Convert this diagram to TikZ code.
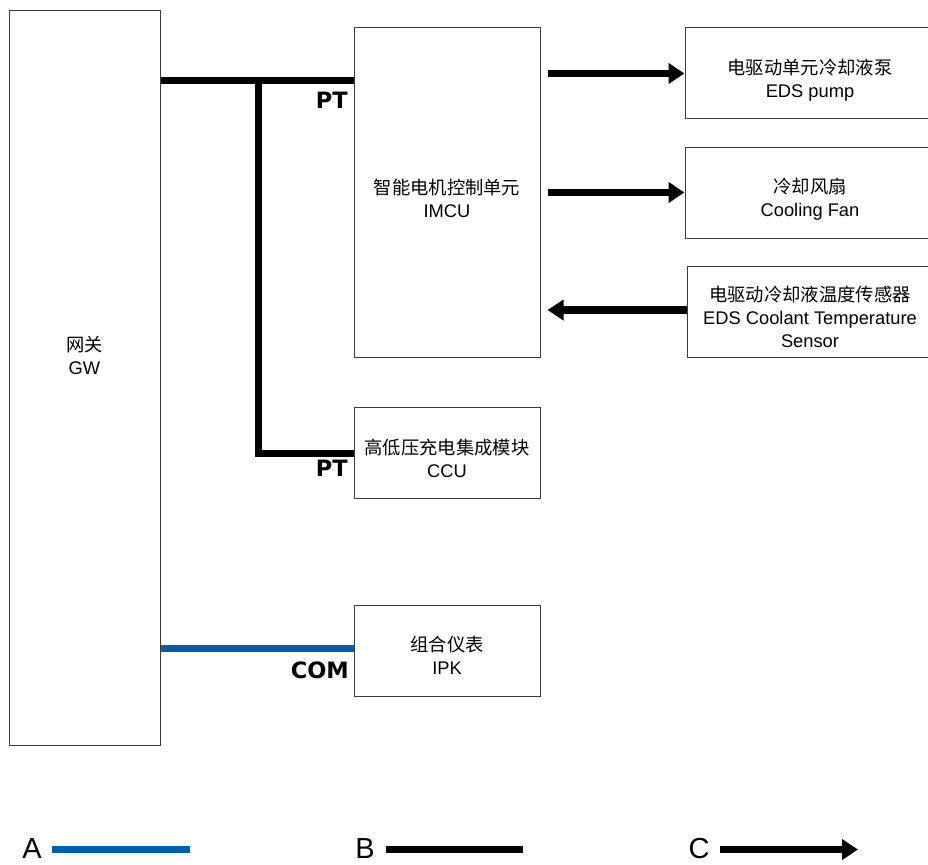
\documentclass[tikz,border=0pt]{standalone}
\usepackage{fontspec}
\setmainfont{Liberation Sans}
\newfontfamily\cjk{Noto Sans CJK SC}
\newfontfamily\tagfont{DejaVu Sans}
\usetikzlibrary{arrows.meta,calc}
\definecolor{busblue}{RGB}{0,91,171}
\definecolor{edge}{RGB}{60,60,60}
\begin{document}
\begin{tikzpicture}[x=1pt,y=-1pt,
  box/.style={draw=edge,line width=1pt,inner sep=0pt},
  txt/.style={align=center,inner sep=0pt,font=\fontsize{18.3}{23}\selectfont},
  bus/.style={line width=7pt,black,line join=miter},
  combus/.style={line width=7pt,busblue},
  arr/.style={line width=7.5pt,black,-{Triangle[length=16pt,width=20pt]}},
  tag/.style={font=\tagfont\bfseries\fontsize{22.5}{22.5}\selectfont,inner sep=0pt,anchor=east},
  legtxt/.style={font=\fontsize{29}{29}\selectfont,inner sep=0pt}]
\useasboundingbox (0,0) rectangle (928,864);
% boxes
\node[box,minimum width=151pt,minimum height=734pt,
  label={[txt,yshift=23pt]center:{\cjk 网关}\\GW}] (gw) at (84.5,378) {};
\node[box,minimum width=186pt,minimum height=329pt,
  label={[txt,yshift=-6pt]center:{\cjk 智能电机控制单元}\\IMCU}] (imcu) at (447,192.5) {};
\node[box,minimum width=186pt,minimum height=91pt,
  label={[txt,yshift=-6pt]center:{\cjk 高低压充电集成模块}\\CCU}] (ccu) at (447,452.5) {};
\node[box,minimum width=186pt,minimum height=91pt,
  label={[txt,yshift=-5pt]center:{\cjk 组合仪表}\\IPK}] (ipk) at (447,650.5) {};
\node[box,minimum width=250pt,minimum height=91pt,
  label={[txt,yshift=-7pt]center:{\cjk 电驱动单元冷却液泵}\\EDS pump}] (pump) at (810,73.5) {};
\node[box,minimum width=250pt,minimum height=91pt,
  label={[txt,yshift=-7pt]center:{\cjk 冷却风扇}\\Cooling Fan}] (fan) at (810,192.5) {};
\node[box,minimum width=246pt,minimum height=91pt,
  label={[txt,yshift=-5pt]center:{\cjk 电驱动冷却液温度传感器}\\EDS Coolant Temperature\\Sensor}] (sensor) at (810,311.5) {};
% buses
\coordinate (tap) at (258,81);
\draw[bus] (gw.east |- tap) -- (imcu.west |- tap);
\draw[bus] (tap) |- (ccu.west |- 0,453);
\draw[combus] (gw.east |- 0,648) -- (ipk.west |- 0,648);
\node[tag] (pt1) at (348,100.5) {PT};
\node[tag] (pt2) at (348,468) {PT};
\node[tag] (com) at (349,670) {COM};
% arrows
\draw[arr] ([xshift=7pt]imcu.east |- pump.west) -- (pump.west);
\draw[arr] ([xshift=7pt]imcu.east |- fan.west) -- (fan.west);
\draw[arr] ([yshift=1.5pt]sensor.west) -- ([xshift=7pt,yshift=1.5pt]imcu.east |- sensor.west);
% legend
\node[legtxt] (la) at (32,848.5) {A};
\node[legtxt] (lb) at (365,848.5) {B};
\node[legtxt] (lc) at (699,848.5) {C};
\coordinate (lae) at (190,849.5);
\coordinate (lbe) at (523,849.5);
\coordinate (lce) at (858,849.5);
\draw[combus,line width=7.5pt] (52,849.5) -- (lae);
\draw[bus,line width=7.5pt] (386,849.5) -- (lbe);
\draw[arr] (720,849.5) -- (lce);
\end{tikzpicture}
\end{document}
